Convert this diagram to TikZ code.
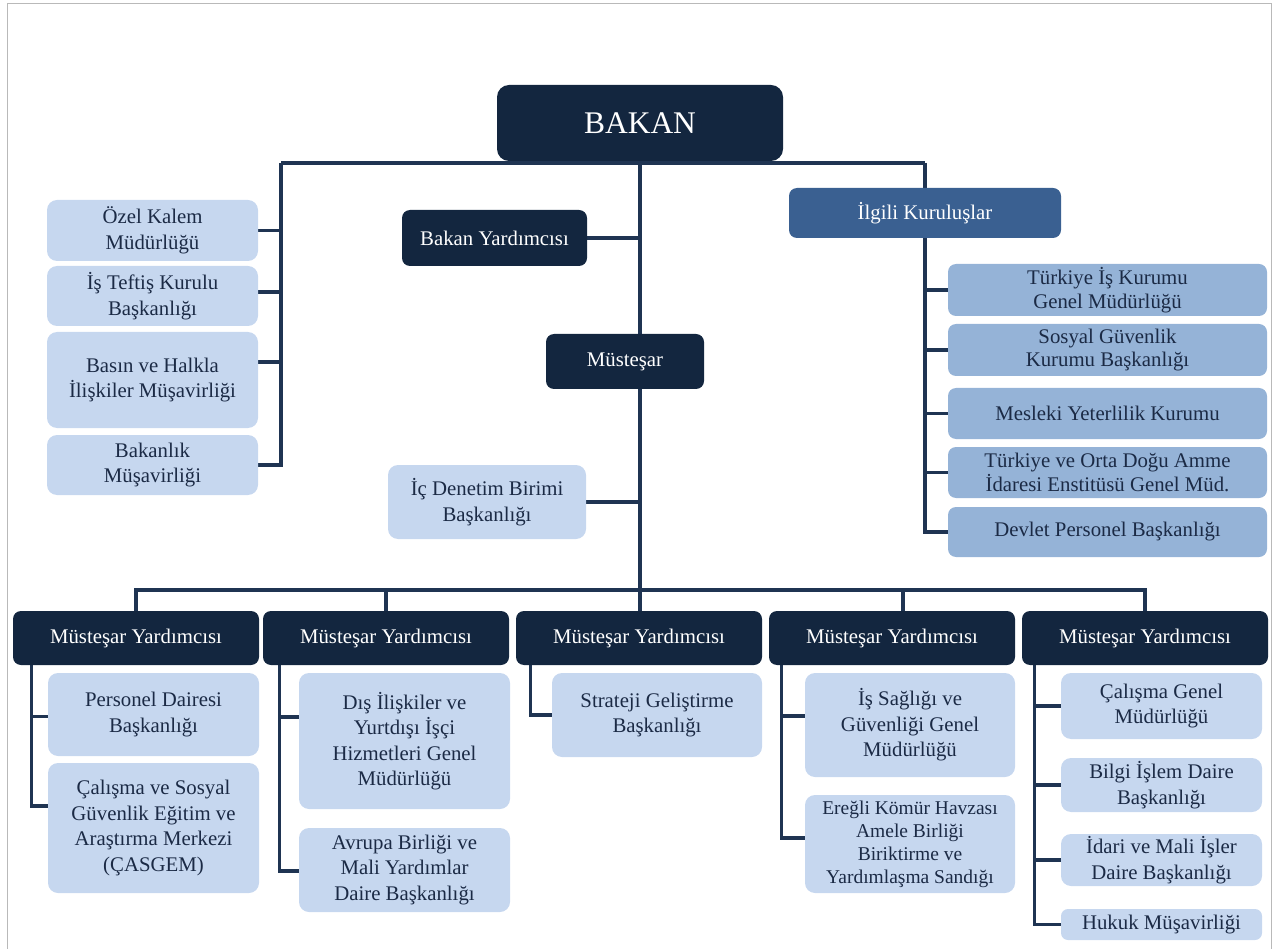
\documentclass[tikz,border=0pt]{standalone}
\usepackage{fontspec}
\setmainfont{Liberation Serif}
\usetikzlibrary{backgrounds}

\definecolor{navy}{HTML}{13263F}
\definecolor{lightbox}{HTML}{C6D7EF}
\definecolor{midbox}{HTML}{95B3D7}
\definecolor{groupbox}{HTML}{3A6091}
\definecolor{linecol}{HTML}{1F3452}
\definecolor{txt}{HTML}{1B2A45}

\begin{document}
\begin{tikzpicture}[x=1pt, y=-1pt,
    every node/.style={align=center, inner sep=2pt, font=\fontsize{20.8}{25.5}\selectfont},
    dark/.style={fill=navy, text=white, rounded corners=8pt},
    light/.style={fill=lightbox, text=txt, rounded corners=10pt},
    mid/.style={fill=midbox, text=txt, rounded corners=8pt},
    conn/.style={draw=linecol, line width=3.2pt}]
    \useasboundingbox (0,0) rectangle (1277,949);
    \draw[gray!55, line width=1.2pt] (7.5,949) -- (7.5,3.5) -- (1271.5,3.5) -- (1271.5,949);

    % top
    \node[dark, rounded corners=12pt, minimum width=286, minimum height=76,
      font=\fontsize{31.5}{36}\selectfont] (bakan) at (640,123) {BAKAN};
    \node[dark, minimum width=185, minimum height=56] (byard) at (494.5,238) {Bakan Yardımcısı};
    \node[dark, minimum width=158, minimum height=55] (mustesar) at (625,361.5) {Müsteşar};
    \node[light, minimum width=198, minimum height=74] (icdenetim) at (487,502) {İç Denetim Birimi\\Başkanlığı};

    % left column
    \node[light, minimum width=211, minimum height=61] (ozel) at (152.5,230.5) {Özel Kalem\\Müdürlüğü};
    \node[light, minimum width=211, minimum height=60] (teftis) at (152.5,296) {İş Teftiş Kurulu\\Başkanlığı};
    \node[light, minimum width=211, minimum height=96] (basin) at (152.5,380) {Basın ve Halkla\\İlişkiler Müşavirliği};
    \node[light, minimum width=211, minimum height=60] (bmusavir) at (152.5,465) {Bakanlık\\Müşavirliği};

    % related bodies
    \node[fill=groupbox, text=white, rounded corners=8pt, minimum width=272, minimum height=50] (ilgili) at (925,213) {İlgili Kuruluşlar};
    \node[mid, minimum width=319, minimum height=52, font=\fontsize{20.8}{23.5}\selectfont] (iskur) at (1107.5,290) {Türkiye İş Kurumu\\Genel Müdürlüğü};
    \node[mid, minimum width=319, minimum height=52, font=\fontsize{20.8}{23.5}\selectfont] (sgk) at (1107.5,350) {Sosyal Güvenlik\\Kurumu Başkanlığı};
    \node[mid, minimum width=319, minimum height=51] (myk) at (1107.5,413.5) {Mesleki Yeterlilik Kurumu};
    \node[mid, minimum width=319, minimum height=51, font=\fontsize{20.8}{23.5}\selectfont] (todaie) at (1107.5,472.5) {Türkiye ve Orta Doğu Amme\\İdaresi Enstitüsü Genel Müd.};
    \node[mid, minimum width=319, minimum height=50] (dpb) at (1107.5,532) {Devlet Personel Başkanlığı};

    % deputy undersecretaries
    \node[dark, minimum width=246, minimum height=54] (my1) at (136,638) {Müsteşar Yardımcısı};
    \node[dark, minimum width=246, minimum height=54] (my2) at (386,638) {Müsteşar Yardımcısı};
    \node[dark, minimum width=246, minimum height=54] (my3) at (639,638) {Müsteşar Yardımcısı};
    \node[dark, minimum width=246, minimum height=54] (my4) at (892,638) {Müsteşar Yardımcısı};
    \node[dark, minimum width=246, minimum height=54] (my5) at (1145,638) {Müsteşar Yardımcısı};

    \node[light, minimum width=211, minimum height=83] (pdb) at (153.5,714.5) {Personel Dairesi\\Başkanlığı};
    \node[light, minimum width=211, minimum height=130] (casgem) at (153.5,828) {Çalışma ve Sosyal\\Güvenlik Eğitim ve\\Araştırma Merkezi\\(ÇASGEM)};
    \node[light, minimum width=211, minimum height=136] (disil) at (404.5,741) {Dış İlişkiler ve\\Yurtdışı İşçi\\Hizmetleri Genel\\Müdürlüğü};
    \node[light, minimum width=211, minimum height=84] (abmy) at (404.5,870) {Avrupa Birliği ve\\Mali Yardımlar\\Daire Başkanlığı};
    \node[light, minimum width=210, minimum height=84] (sgb) at (657,715) {Strateji Geliştirme\\Başkanlığı};
    \node[light, minimum width=210, minimum height=104] (isg) at (910,725) {İş Sağlığı ve\\Güvenliği Genel\\Müdürlüğü};
    \node[light, minimum width=210, minimum height=98, font=\fontsize{19.5}{23}\selectfont] (eregli) at (910,844) {Ereğli Kömür Havzası\\Amele Birliği\\Biriktirme ve\\Yardımlaşma Sandığı};
    \node[light, minimum width=201, minimum height=66] (cgm) at (1161.5,706) {Çalışma Genel\\Müdürlüğü};
    \node[light, minimum width=201, minimum height=54] (bidb) at (1161.5,785) {Bilgi İşlem Daire\\Başkanlığı};
    \node[light, minimum width=201, minimum height=52] (imidb) at (1161.5,860) {İdari ve Mali İşler\\Daire Başkanlığı};
    \node[light, rounded corners=7pt, minimum width=201, minimum height=31] (hukuk) at (1161.5,924.5) {Hukuk Müşavirliği};

    \coordinate (topL) at (281,163);
    \coordinate (topR) at (925,163);
    \coordinate (bus) at (640,590);

    \begin{scope}[on background layer]
      % main spine
      \draw[conn] (topL) -- (topR);
      \draw[conn] (bakan.south) -- (bakan.south |- my3.north);
      \draw[conn] (byard.east) -- (byard.east -| bakan.south);
      \draw[conn] (icdenetim.east) -- (icdenetim.east -| bakan.south);
      % left staff units
      \draw[conn] (topL) |- (bmusavir.east);
      \draw[conn] (topL) |- (ozel.east);
      \draw[conn] (topL) |- ([yshift=4pt]teftis.east);
      \draw[conn] (topL) |- ([yshift=18pt]basin.east);
      % related bodies
      \draw[conn] (topR) -- (ilgili.north);
      \draw[conn] (ilgili.south) |- (dpb.west);
      \foreach \n in {iskur, sgk, myk, todaie}{
        \draw[conn] (ilgili.south) |- (\n.west);
      }
      % lower bus
      \draw[conn] (my1.north) |- (bus) -| (my5.north);
      \draw[conn] (my2.north) -- (my2.north |- bus);
      \draw[conn] ([xshift=11pt]my4.north) -- ([xshift=11pt]my4.north |- bus);
      % departments
      \draw[conn] ([xshift=19pt]my1.south west) |- ([yshift=22pt]casgem.west);
      \draw[conn] ([xshift=19pt]my1.south west) |- ([yshift=-2pt]pdb.west);
      \draw[conn] ([xshift=17pt]my2.south west) |- ([yshift=-1pt]abmy.west);
      \draw[conn] ([xshift=17pt]my2.south west) |- ([yshift=24pt]disil.west);
      \draw[conn] ([xshift=15pt]my3.south west) |- (sgb.west);
      \draw[conn] ([xshift=13pt]my4.south west) |- ([yshift=6pt]eregli.west);
      \draw[conn] ([xshift=13pt]my4.south west) |- ([yshift=9pt]isg.west);
      \draw[conn] ([xshift=13pt]my5.south west) |- (hukuk.west);
      \foreach \n in {cgm, bidb, imidb}{
        \draw[conn] ([xshift=13pt]my5.south west) |- (\n.west);
      }
    \end{scope}
\end{tikzpicture}
\end{document}
